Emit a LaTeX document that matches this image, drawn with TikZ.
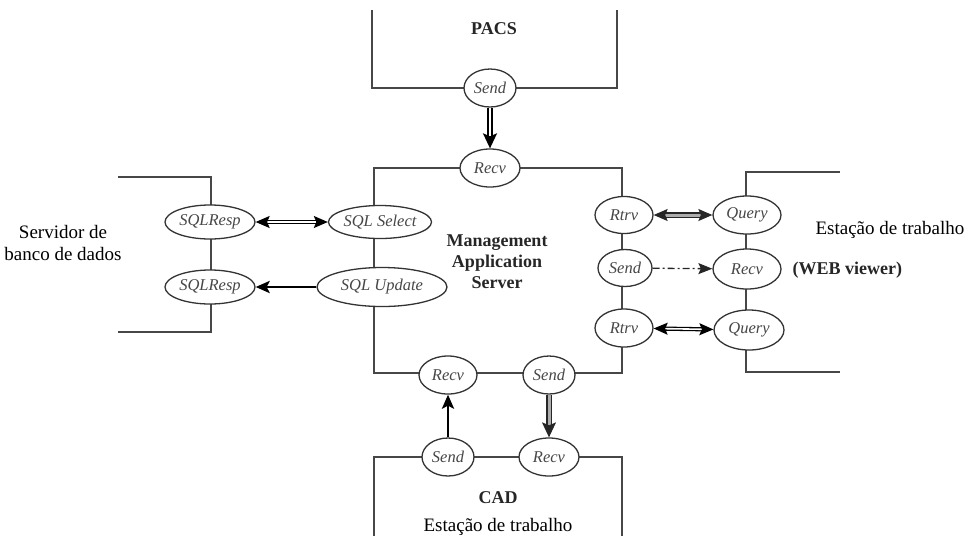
\documentclass[tikz,border=0pt]{standalone}
\usepackage{fontspec}
\setmainfont{Liberation Serif}
\usetikzlibrary{shapes.geometric,arrows.meta}
\begin{document}
\begin{tikzpicture}[x=1pt,y=-1pt,
  frame/.style={line width=1.3pt, draw=black!72},
  port/.style 2 args={ellipse, draw=black!80, line width=1.3pt, fill=white,
    inner sep=0pt, minimum width=#1pt, minimum height=#2pt,
    font=\fontsize{16.5}{18}\selectfont\itshape, text=black!72},
  plain/.style={font=\fontsize{19}{22}\selectfont, align=center},
  heading/.style={font=\fontsize{18}{21}\selectfont\bfseries, align=center, text=black!85},
  tip/.style={-{Stealth[length=14pt,width=11pt,inset=2.5pt]}},
  tips/.style={{Stealth[length=14pt,width=12pt,inset=2.5pt]}-{Stealth[length=14pt,width=12pt,inset=2.5pt]}},
  hollowpipe/.style={draw=black, line width=1.3pt, double=white, double distance=1.6pt},
  graypipe/.style={draw=black!85, line width=1.3pt, double=gray!65, double distance=3pt},
  solidpipe/.style={draw=black, line width=2.8pt},
  dashpipe/.style={draw=black!85, line width=1.3pt, dash pattern=on 7pt off 3pt on 2pt off 3pt}
]
\useasboundingbox (0,0) rectangle (974,542);

% ---- system frames (drawn first, ports sit on top) ----
% PACS
\draw[frame] (372,10) -- (372,88) -- (617,88) -- (617,10);
% Management Application Server
\draw[frame] (374,168) rectangle (622,373);
% database server (open to the left)
\draw[frame] (118,177) -- (211,177) -- (211,332) -- (118,332);
% web viewer workstation (open to the right)
\draw[frame] (840,172) -- (746,172) -- (746,372) -- (840,372);
% CAD workstation
\draw[frame] (374,536) -- (374,457) -- (622,457) -- (622,536);

% ---- ports ----
\node[port={52}{38}] (psend) at (490,88) {Send};
\node[port={60}{38}] (mrecv) at (490,168) {Recv};

\node[port={90}{34}] (dbsel) at (210,222) {SQLResp};
\node[port={90}{34}] (dbupd) at (210,287) {SQLResp};
\node[port={96}{33}] (msel) at (380,222) {SQL Select};
\node[port={130}{39}] (mupd) at (382,287) {SQL Update};

\node[port={58}{37}] (mrtrvA) at (624,215) {Rtrv};
\node[port={54}{37}] (msend) at (625,268) {Send};
\node[port={58}{38}] (mrtrvB) at (624,328) {Rtrv};
\node[port={68}{38}] (wqueryA) at (747,215) {Query};
\node[port={68}{40}] (wrecv) at (747,269) {Recv};
\node[port={70}{40}] (wqueryB) at (749,330) {Query};

\node[port={58}{38}] (mrecvB) at (448,375) {Recv};
\node[port={52}{38}] (msendB) at (549,375) {Send};
\node[port={52}{38}] (csend) at (448,457) {Send};
\node[port={60}{38}] (crecv) at (549,457) {Recv};

% ---- labels ----
\node[heading] (pacs) at (494,29) {PACS};
\node[heading] (mas) at (497,262) {Management\\Application\\Server};
\node[plain] (dbname) at (63,243) {Servidor de\\banco de dados};
\node[plain, anchor=west] (wsname) at (812,230) {Estação de trabalho};
\node[heading, anchor=west] (webname) at (789,270) {(WEB viewer)};
\node[heading] (cad) at (498,498) {CAD};
\node[plain] (cadname) at (498,527) {Estação de trabalho};

% ---- message flows ----
\draw[draw=black, line width=1.9pt, double=white, double distance=1.4pt,
  -{Stealth[length=15pt,width=14pt,inset=3pt]}] (psend) -- (mrecv);
\draw[hollowpipe, tips] (dbsel) -- (msel);
\draw[solidpipe, -{Stealth[length=14pt,width=12pt,inset=3pt]}] (mupd) -- (dbupd);
\draw[graypipe, tips] (mrtrvA) -- (wqueryA);
\draw[dashpipe, tip] (msend) -- (wrecv);
\draw[hollowpipe, tips] (mrtrvB) -- (wqueryB);
\draw[solidpipe, -{Stealth[length=14pt,width=12pt,inset=3pt]}] (csend) -- (mrecvB);
\draw[graypipe, -{Stealth[length=15pt,width=14pt,inset=3pt]}] (msendB) -- (crecv);
\end{tikzpicture}
\end{document}
